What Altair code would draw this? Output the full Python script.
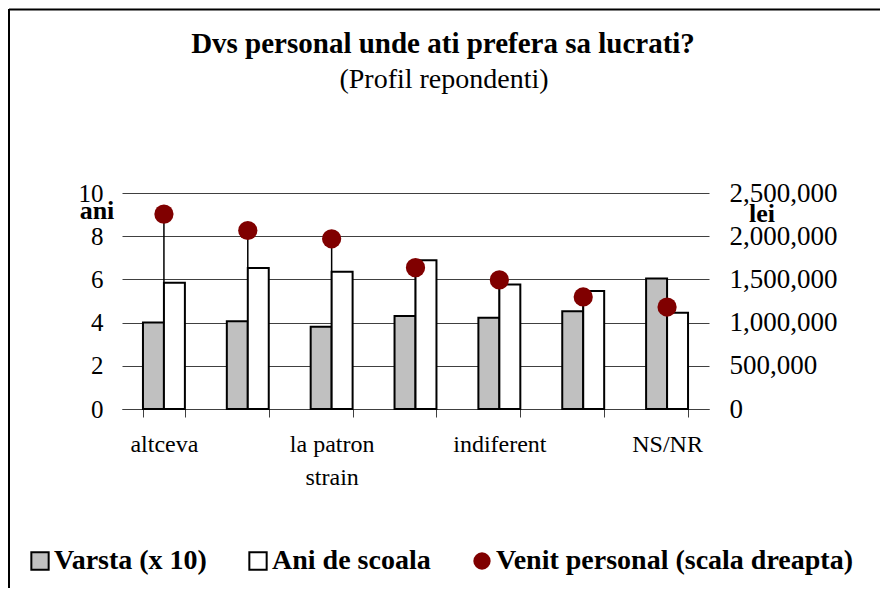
import altair as alt
import pandas as pd

# ---- data ----
categories = ["altceva", "la stat", "la patron strain", "la patron roman",
              "indiferent", "pe cont propriu", "NS/NR"]
shown_labels = ["altceva", "indiferent", "NS/NR"]
varsta_x10 = [4.00, 4.06, 3.81, 4.30, 4.22, 4.52, 6.04]
ani_scoala = [5.85, 6.53, 6.35, 6.89, 5.76, 5.46, 4.46]
venit = [2256000, 2066000, 1970000, 1636000, 1494000, 1297000, 1180000]
series_names = ["Varsta (x 10)", "Ani de scoala", "Venit personal (scala dreapta)"]
series_colors = ["#c0c0c0", "#ffffff", "#800000"]
left_ticks = [0, 2, 4, 6, 8, 10]
right_ticks = [0, 500000, 1000000, 1500000, 2000000, 2500000]

title_text = "Dvs personal unde ati prefera sa lucrati?"
subtitle_text = "(Profil repondenti)"

FONT = "Liberation Serif"

bars_df = pd.DataFrame({
    "category": categories * 2,
    "series": [series_names[0]] * len(categories) + [series_names[1]] * len(categories),
    "value": varsta_x10 + ani_scoala,
})
pts_df = pd.DataFrame({
    "category": categories,
    "series": [series_names[2]] * len(categories),
    "venit": venit,
})
one = pd.DataFrame({"a": [0]})

label_expr = (
    "datum.value == 'la patron strain' ? ['la patron', 'strain'] : "
    "(indexof(" + str(shown_labels) + ", datum.value) >= 0 ? datum.value : '')"
)

x_enc = alt.X(
    "category:N",
    sort=categories,
    scale=alt.Scale(paddingInner=0.5, paddingOuter=0.25),
    axis=alt.Axis(
        title=None, labelExpr=label_expr, labelAngle=0, labelFont=FONT,
        labelFontSize=24, labelColor="black", labelLineHeight=33,
        labelPadding=15, tickSize=8, tickBand="extent", tickColor="#404040",
        domainColor="#404040", grid=False, labelOverlap=False, labelBound=False,
    ),
)

color_scale = alt.Scale(domain=series_names, range=series_colors)
is_venit = "datum.value == '" + series_names[2] + "'"
legend = alt.Legend(
    orient="none", legendX=-96, legendY=354, direction="horizontal", title=None,
    labelFont=FONT, labelFontSize=28, labelFontWeight="bold", labelColor="black",
    labelLimit=0, symbolSize=300, labelOffset=0, columnPadding=37, padding=0,
    symbolType=alt.ExprRef(expr=is_venit + " ? 'circle' : 'square'"),
    symbolStrokeWidth=alt.ExprRef(expr=is_venit + " ? 0 : 2"),
    symbolStrokeColor="black", symbolOpacity=1,
)

rules = alt.Chart(pts_df).mark_rule(color="black", strokeWidth=1.5).encode(
    x=x_enc,
    y=alt.Y("venit:Q", scale=alt.Scale(domain=[0, 2500000]), axis=None),
    y2=alt.datum(0),
)

bars = alt.Chart(bars_df).mark_bar(stroke="black", strokeWidth=2).encode(
    x=x_enc,
    xOffset=alt.XOffset("series:N", sort=series_names[:2],
                        scale=alt.Scale(paddingInner=0, paddingOuter=0)),
    y=alt.Y("value:Q", scale=alt.Scale(domain=[0, 10]),
            axis=alt.Axis(values=left_ticks, title=None, grid=True,
                          gridColor="#404040", gridWidth=1, domain=False,
                          ticks=False, labelPadding=19, labelFont=FONT,
                          labelFontSize=25, labelColor="black")),
    color=alt.Color("series:N", scale=color_scale, legend=legend),
)

points = alt.Chart(pts_df).mark_point(filled=True, opacity=1, size=370,
                                      shape="circle").encode(
    x=x_enc,
    y=alt.Y("venit:Q", scale=alt.Scale(domain=[0, 2500000]),
            axis=alt.Axis(orient="right", values=right_ticks, format=",.0f",
                          title=None, grid=False, domain=False, ticks=False,
                          labelPadding=20, labelFont=FONT, labelFontSize=27,
                          labelColor="black")),
    color=alt.Color("series:N", scale=color_scale, legend=None),
)

title = alt.Chart(one).mark_text(
    text=title_text, font=FONT, fontSize=29, fontWeight="bold", color="black",
    align="center", baseline="alphabetic",
).encode(x=alt.value(321), y=alt.value(-140))

subtitle = alt.Chart(one).mark_text(
    text=subtitle_text, font=FONT, fontSize=28, color="black",
    align="center", baseline="alphabetic",
).encode(x=alt.value(322), y=alt.value(-105))

ani = alt.Chart(one).mark_text(
    text="ani", font=FONT, fontSize=26, fontWeight="bold", color="black",
    align="center", baseline="alphabetic",
).encode(x=alt.value(-25), y=alt.value(26))

lei = alt.Chart(one).mark_text(
    text="lei", font=FONT, fontSize=26, fontWeight="bold", color="black",
    align="center", baseline="alphabetic",
).encode(x=alt.value(640), y=alt.value(29))

border_top = alt.Chart(one).mark_rule(color="black", strokeWidth=2).encode(
    x=alt.value(-113), x2=alt.value(760), y=alt.value(-183.5))
border_left = alt.Chart(one).mark_rule(color="black", strokeWidth=2).encode(
    x=alt.value(-113), y=alt.value(-184), y2=alt.value(400))

chart = alt.layer(
    rules, bars, points, title, subtitle, ani, lei, border_top, border_left
).resolve_scale(y="independent").properties(
    width=587, height=216,
    autosize=alt.AutoSizeParams(type="none"),
    padding={"left": 114, "top": 185, "right": 171, "bottom": 179},
).configure_view(strokeWidth=0)

chart.save("out.html", embed_options={"renderer": "svg", "actions": False})
